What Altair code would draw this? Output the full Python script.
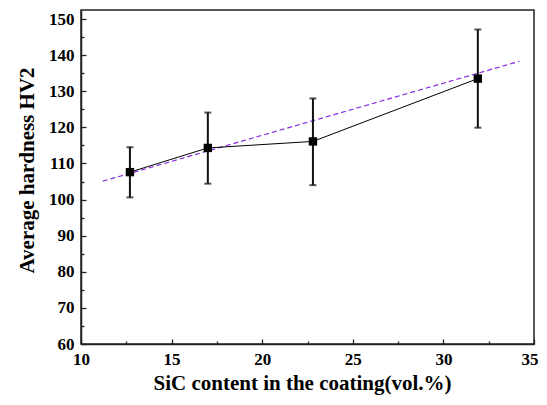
import altair as alt
import pandas as pd

# data
sic = [12.7, 17.0, 22.8, 31.9]
hardness = [107.6, 114.3, 116.1, 133.5]
err_low = [100.6, 104.4, 104.0, 119.9]
err_high = [114.5, 124.1, 128.0, 147.1]

fit_x = [11.2, 34.2]
fit_y = [105.1, 138.3]

x_major = [10, 15, 20, 25, 30, 35]
x_minor = [12.5, 17.5, 22.5, 27.5, 32.5]
y_major = [60, 70, 80, 90, 100, 110, 120, 130, 140, 150]
y_minor = [65, 75, 85, 95, 105, 115, 125, 135, 145]

df = pd.DataFrame({"x": sic, "y": hardness, "lo": err_low, "hi": err_high})
fit = pd.DataFrame({"x": fit_x, "y": fit_y})

W, H = 453, 334
FONT = "Liberation Serif"
AX = "#222222"
LBL = 17
TTL = 21

xs = alt.Scale(domain=[10, 35], nice=False, zero=False)
ys = alt.Scale(domain=[60, 152.5], nice=False, zero=False)

x_main = alt.Axis(values=x_major[:-1], tickSize=0, ticks=False, grid=False, domain=True,
                  domainColor=AX, domainWidth=1.5, labelFont=FONT, labelFontSize=LBL,
                  labelFontWeight="bold", labelColor="black", labelPadding=7,
                  title="SiC content in the coating(vol.%)", titleFont=FONT,
                  titleFontSize=TTL, titleFontWeight="bold", titleColor="black",
                  titlePadding=5, titleX=221, labelFlush=False)
x_last = alt.Axis(values=x_major[-1:], tickSize=0, ticks=False, grid=False, domain=False,
                  labelFont=FONT, labelFontSize=LBL, labelFontWeight="bold",
                  labelColor="black", labelPadding=7, labelAlign="right", labelOffset=4,
                  title=None, labelFlush=False)
y_main = alt.Axis(values=y_major, tickSize=0, ticks=False, grid=False, domain=True,
                  domainColor=AX, domainWidth=1.5, labelFont=FONT, labelFontSize=LBL,
                  labelFontWeight="bold", labelColor="black", labelPadding=7,
                  title="Average hardness HV2", titleFont=FONT,
                  titleFontSize=TTL, titleFontWeight="bold", titleColor="black",
                  titlePadding=11, titleY=160, labelFlush=False)

x_ticks = alt.Axis(orient="top", offset=-H, values=x_major, tickSize=5, tickWidth=1.3,
                   tickColor=AX, labels=False, domain=False, grid=False, title=None)
y_ticks = alt.Axis(orient="right", offset=-W, values=y_major, tickSize=5, tickWidth=1.3,
                   tickColor=AX, labels=False, domain=False, grid=False, title=None)
x_mticks = alt.Axis(orient="top", offset=-H, values=x_minor, tickSize=3, tickWidth=1.3,
                    tickColor=AX, labels=False, domain=False, grid=False, title=None)
y_mticks = alt.Axis(orient="right", offset=-W, values=y_minor, tickSize=3, tickWidth=1.3,
                    tickColor=AX, labels=False, domain=False, grid=False, title=None)

fit_layer = alt.Chart(fit).mark_line(color="#8a2be2", strokeWidth=1.2, strokeDash=[5, 3]).encode(
    x=alt.X("x:Q", scale=xs, axis=x_main),
    y=alt.Y("y:Q", scale=ys, axis=y_main),
)

line_layer = alt.Chart(df).mark_line(color="black", strokeWidth=1).encode(
    x=alt.X("x:Q", scale=xs, axis=x_ticks),
    y=alt.Y("y:Q", scale=ys, axis=y_ticks),
)

err_layer = alt.Chart(df).mark_rule(color="#111111", strokeWidth=2).encode(
    x=alt.X("x:Q", scale=xs, axis=x_mticks),
    y=alt.Y("lo:Q", scale=ys, axis=y_mticks),
    y2="hi:Q",
)

cap_lo = alt.Chart(df).mark_tick(color="#111111", size=7, thickness=2, orient="horizontal").encode(
    x=alt.X("x:Q", scale=xs, axis=x_last),
    y=alt.Y("lo:Q", scale=ys, axis=None),
)
cap_hi = alt.Chart(df).mark_tick(color="#111111", size=7, thickness=2, orient="horizontal").encode(
    x=alt.X("x:Q", scale=xs, axis=None),
    y=alt.Y("hi:Q", scale=ys, axis=None),
)

pts = alt.Chart(df).mark_square(color="black", size=70, opacity=1).encode(
    x=alt.X("x:Q", scale=xs, axis=None),
    y=alt.Y("y:Q", scale=ys, axis=None),
)

chart = alt.layer(fit_layer, line_layer, err_layer, cap_lo, cap_hi, pts).resolve_axis(
    x="independent", y="independent"
).properties(
    width=W, height=H,
    autosize=alt.AutoSizeParams(type="none"),
    padding={"left": 73, "top": 2, "right": 5, "bottom": 53},
    background="white",
).configure_view(stroke=AX, strokeWidth=1.5)

chart.save("out.html", embed_options={"renderer": "svg", "actions": False})
